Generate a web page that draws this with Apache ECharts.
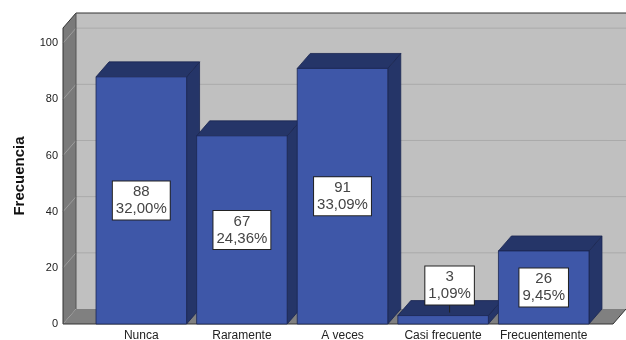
<!DOCTYPE html>
<html>
<head>
<meta charset="utf-8">
<script src="https://cdn.jsdelivr.net/npm/echarts@6/dist/echarts.min.js"></script>
<style>
  html, body { margin: 0; padding: 0; background: #ffffff; }
  #chart { width: 626px; height: 340px; }
</style>
</head>
<body>
<div id="chart"></div>
<script>
// Frequency table
const categories = ['Nunca', 'Raramente', 'A veces', 'Casi frecuente', 'Frecuentemente'];
const counts = [88, 67, 91, 3, 26];
const percents = ['32,00%', '24,36%', '33,09%', '1,09%', '9,45%'];
const yTicks = [0, 20, 40, 60, 80, 100];

// Scale / 3D look
const Y_MAX = 105.4;          // top of the walls, in frequency units
const DEPTH = [13, -15];      // oblique offset of the back plane (px)
const BAR_RATIO = 0.9;        // bar width as share of category band
const FONT = '"Liberation Sans", Arial, sans-serif';

const COL = {
  backWall: '#c0c0c0',
  sideWall: '#7a7a7a',
  floor: '#808080',
  gridBack: '#aaaaaa',
  gridSide: '#9c9c9c',
  edge: '#333333',
  barFront: '#3e57a8',
  barDark: '#253568',
  barEdge: '#1b2650'
};

const chart = echarts.init(document.getElementById('chart'), null, { renderer: 'canvas' });

// Floor, side wall, back wall and grid lines of the 3D box
function renderWalls(params, api) {
  const [dx, dy] = DEPTH;
  const pb = api.coord([0, 0]);
  const pr = api.coord([1, 0]);
  const pt = api.coord([0, Y_MAX]);
  const left = pb[0], right = pr[0], bottom = pb[1], top = pt[1];
  const kids = [];

  kids.push({ type: 'rect', shape: { x: left + dx, y: top + dy, width: right - left, height: bottom - top },
    style: { fill: COL.backWall } });
  kids.push({ type: 'polygon', shape: { points: [[left, top], [left + dx, top + dy], [left + dx, bottom + dy], [left, bottom]] },
    style: { fill: COL.sideWall } });
  kids.push({ type: 'polygon', shape: { points: [[left, bottom], [left + dx, bottom + dy], [right + dx, bottom + dy], [right, bottom]] },
    style: { fill: COL.floor } });

  yTicks.forEach(function (t) {
    if (t === 0) return;
    const y = api.coord([0, t])[1];
    kids.push({ type: 'line', shape: { x1: left + dx, y1: y + dy, x2: right + dx, y2: y + dy },
      style: { stroke: COL.gridBack, lineWidth: 1 } });
    kids.push({ type: 'line', shape: { x1: left, y1: y, x2: left + dx, y2: y + dy },
      style: { stroke: COL.gridSide, lineWidth: 1 } });
  });

  // outlines
  kids.push({ type: 'polyline', shape: { points: [[left, bottom], [left, top], [left + dx, top + dy], [right + dx, top + dy]] },
    style: { stroke: COL.edge, lineWidth: 1, fill: null } });
  kids.push({ type: 'line', shape: { x1: left + dx, y1: top + dy, x2: left + dx, y2: bottom + dy },
    style: { stroke: '#555555', lineWidth: 1 } });
  kids.push({ type: 'polyline', shape: { points: [[left, bottom], [right, bottom], [right + dx, bottom + dy]] },
    style: { stroke: COL.edge, lineWidth: 1, fill: null } });

  return { type: 'group', children: kids };
}

function barGeom(api) {
  const idx = api.value(0);
  const v = api.value(1);
  const base = api.coord([idx, 0]);
  const topPt = api.coord([idx, v]);
  const w = api.size([1, 0])[0] * BAR_RATIO;
  return { cx: base[0], x0: base[0] - w / 2, x1: base[0] + w / 2, yb: base[1], yt: topPt[1], w: w };
}

// 3D bar: front face, top face, right side face
function renderBar(params, api) {
  const [dx, dy] = DEPTH;
  const g = barGeom(api);
  return {
    type: 'group',
    children: [
      { type: 'polygon', shape: { points: [[g.x1, g.yt], [g.x1 + dx, g.yt + dy], [g.x1 + dx, g.yb + dy], [g.x1, g.yb]] },
        style: { fill: COL.barDark, stroke: COL.barEdge, lineWidth: 0.8 } },
      { type: 'polygon', shape: { points: [[g.x0, g.yt], [g.x0 + dx, g.yt + dy], [g.x1 + dx, g.yt + dy], [g.x1, g.yt]] },
        style: { fill: COL.barDark, stroke: COL.barEdge, lineWidth: 0.8 } },
      { type: 'rect', shape: { x: g.x0, y: g.yt, width: g.w, height: g.yb - g.yt },
        style: { fill: COL.barFront, stroke: COL.barEdge, lineWidth: 0.8 } }
    ]
  };
}

// Value boxes: centred in the front face, or above the bar with a leader when the bar is short
function renderLabel(params, api) {
  const [dx, dy] = DEPTH;
  const g = barGeom(api);
  const i = params.dataIndex;
  const txt = String(counts[i]) + '\n' + percents[i];
  const style = {
    text: txt, fill: '#444444', font: '15px ' + FONT, lineHeight: 17,
    align: 'center', backgroundColor: '#ffffff', borderColor: '#222222', borderWidth: 1,
    padding: [2, 3, 2, 3]
  };
  if (g.yb - g.yt > 44) {
    style.verticalAlign = 'middle';
    return { type: 'text', x: g.cx, y: (g.yb + g.yt) / 2, style: style, z2: 10 };
  }
  const cx = g.cx + dx / 2;
  const boxBottom = g.yt + dy + 4;
  style.verticalAlign = 'bottom';
  return {
    type: 'group',
    children: [
      { type: 'line', shape: { x1: cx, y1: boxBottom, x2: cx, y2: g.yt - 3 }, style: { stroke: '#222222', lineWidth: 1 } },
      { type: 'text', x: cx, y: boxBottom, style: style, z2: 10 }
    ]
  };
}

const barData = categories.map(function (c, i) { return [i, counts[i]]; });

chart.setOption({
  animation: false,
  backgroundColor: '#ffffff',
  grid: [
    { left: 63, right: 13, top: 28, bottom: 16, outerBoundsMode: 'none', containLabel: false },
    { left: 91, width: 503, top: 28, bottom: 16, outerBoundsMode: 'none', containLabel: false }
  ],
  xAxis: [
    { gridIndex: 0, type: 'value', min: 0, max: 1, show: false },
    {
      gridIndex: 1, type: 'category', data: categories,
      axisLine: { show: false }, axisTick: { show: false },
      axisLabel: { margin: 6, fontSize: 12, color: '#222222', fontFamily: FONT, interval: 0 }
    }
  ],
  yAxis: [
    {
      gridIndex: 0, type: 'value', min: 0, max: Y_MAX, interval: 20,
      axisLine: { show: false }, axisTick: { show: false }, splitLine: { show: false },
      axisLabel: {
        margin: 5, fontSize: 11, color: '#222222', fontFamily: FONT,
        formatter: function (v) { return yTicks.indexOf(v) >= 0 ? String(v) : ''; }
      },
      name: 'Frecuencia', nameLocation: 'middle', nameRotate: 90, nameGap: 36,
      nameTextStyle: { fontSize: 15, fontWeight: 'bold', color: '#111111', fontFamily: FONT }
    },
    { gridIndex: 1, type: 'value', min: 0, max: Y_MAX, show: false }
  ],
  series: [
    { type: 'custom', xAxisIndex: 0, yAxisIndex: 0, data: [[0, 0]], renderItem: renderWalls, silent: true, z: 1 },
    { type: 'custom', xAxisIndex: 1, yAxisIndex: 1, data: barData, renderItem: renderBar, silent: true, z: 2 },
    { type: 'custom', xAxisIndex: 1, yAxisIndex: 1, data: barData, renderItem: renderLabel, silent: true, z: 3 }
  ]
});
</script>
</body>
</html>
